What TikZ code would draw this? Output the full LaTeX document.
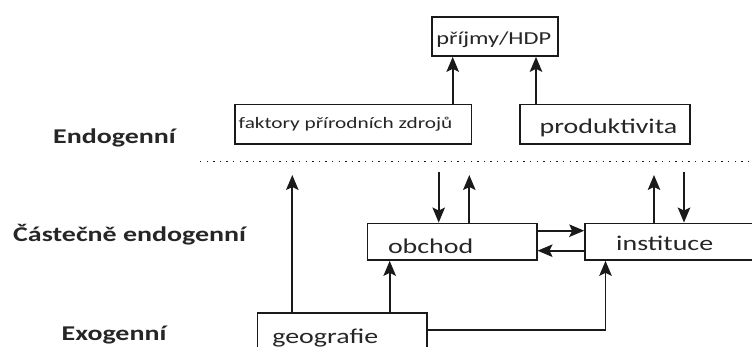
\documentclass[tikz,border=0pt]{standalone}
\usepackage{fontspec}
\setmainfont{Carlito}[FakeStretch=1.33]
\usetikzlibrary{arrows.meta}
\definecolor{ink}{HTML}{1A1A1A}
\definecolor{txt}{HTML}{262626}
\tikzset{
  box/.style={draw=ink, line width=1.6pt, rectangle, inner sep=0pt, fill=white},
  lbl/.style={anchor=base west, inner sep=0pt, text=txt, font=\fontsize{21}{25}\selectfont},
  lvl/.style={anchor=base west, inner sep=0pt, text=txt, font=\bfseries\fontsize{21}{25}\selectfont},
  arr/.style={draw=ink, line width=1.7pt, -{Stealth[length=15pt, width=12.5pt, inset=3pt]}},
  dotline/.style={draw=ink, line width=1.3pt, dash pattern=on 1.3pt off 5.3pt}
}
\begin{document}
\begin{tikzpicture}[x=1pt, y=-1pt]
\path[use as bounding box] (0,0) rectangle (752,347);
\clip (0,0) rectangle (752,347);
\fill[white] (0,0) rectangle (752,347);

% boxes
\node[box, minimum width=126pt, minimum height=39.3pt] (prijmy) at (494.7,36.4) {};
\node[box, minimum width=236.7pt, minimum height=39.7pt] (faktory) at (353.3,124.2) {};
\node[box, minimum width=170pt, minimum height=39.7pt] (produkt) at (605,124.2) {};
\node[box, minimum width=169.4pt, minimum height=36.7pt] (obchod) at (452,241.7) {};
\node[box, minimum width=185pt, minimum height=36.7pt] (instit) at (677.5,241.7) {};
\node[box, minimum width=169.7pt, minimum height=52pt] (geo) at (342.2,339) {};

% box texts
\node[lbl, font=\fontsize{18.3}{22}\selectfont] (tprijmy) at (436.2,45) {příjmy/HDP};
\node[lbl, font=\fontsize{16}{19}\selectfont] (tfaktory) at (238.5,128.3) {faktory přírodních zdrojů};
\node[lbl] (tprodukt) at (539.5,133.3) {produktivita};
\node[lbl] (tobchod) at (387.8,253.3) {obchod};
\node[lbl] (tinstit) at (616,250.7) {instituce};
\node[lbl] (tgeo) at (272.2,343.3) {geografie};

% level labels
\node[lvl] (endo) at (53,143.3) {Endogenní};
\node[lvl] (castecne) at (13,241.7) {Částečně endogenní};
\node[lvl] (exo) at (61.5,340) {Exogenní};

% dotted separator
\coordinate (dl) at (200,161.5);
\coordinate (dr) at (752,161.5);
\draw[dotline] (dl) -- (dr);

% helper coordinates
\coordinate (xf) at (452.7,0);
\coordinate (xp) at (536,0);
\coordinate (geoup) at (292.3,175);
\coordinate (obdown) at (438.7,172.5);
\coordinate (obup) at (469.3,175);
\coordinate (inup) at (654,175);
\coordinate (indown) at (684,172.5);
\coordinate (yoi) at (0,230.7);
\coordinate (yio) at (0,250.7);
\coordinate (xgo) at (389.7,0);
\coordinate (ygi) at (0,330);
\coordinate (xgi) at (605.5,0);

% connectors
\draw[arr] (faktory.north -| xf) -- (prijmy.south -| xf);
\draw[arr] (produkt.north -| xp) -- (prijmy.south -| xp);
\draw[arr] (geo.north -| geoup) -- (geoup);
\draw[arr] (obdown) -- (obchod.north -| obdown);
\draw[arr] (obchod.north -| obup) -- (obup);
\draw[arr] (instit.north -| inup) -- (inup);
\draw[arr] (indown) -- (instit.north -| indown);
\draw[arr] (obchod.east |- yoi) -- (instit.west |- yoi);
\draw[arr] (instit.west |- yio) -- (obchod.east |- yio);
\draw[arr] (geo.north -| xgo) -- (obchod.south -| xgo);
\draw[arr] (geo.east |- ygi) -| (instit.south -| xgi);
\end{tikzpicture}
\end{document}
